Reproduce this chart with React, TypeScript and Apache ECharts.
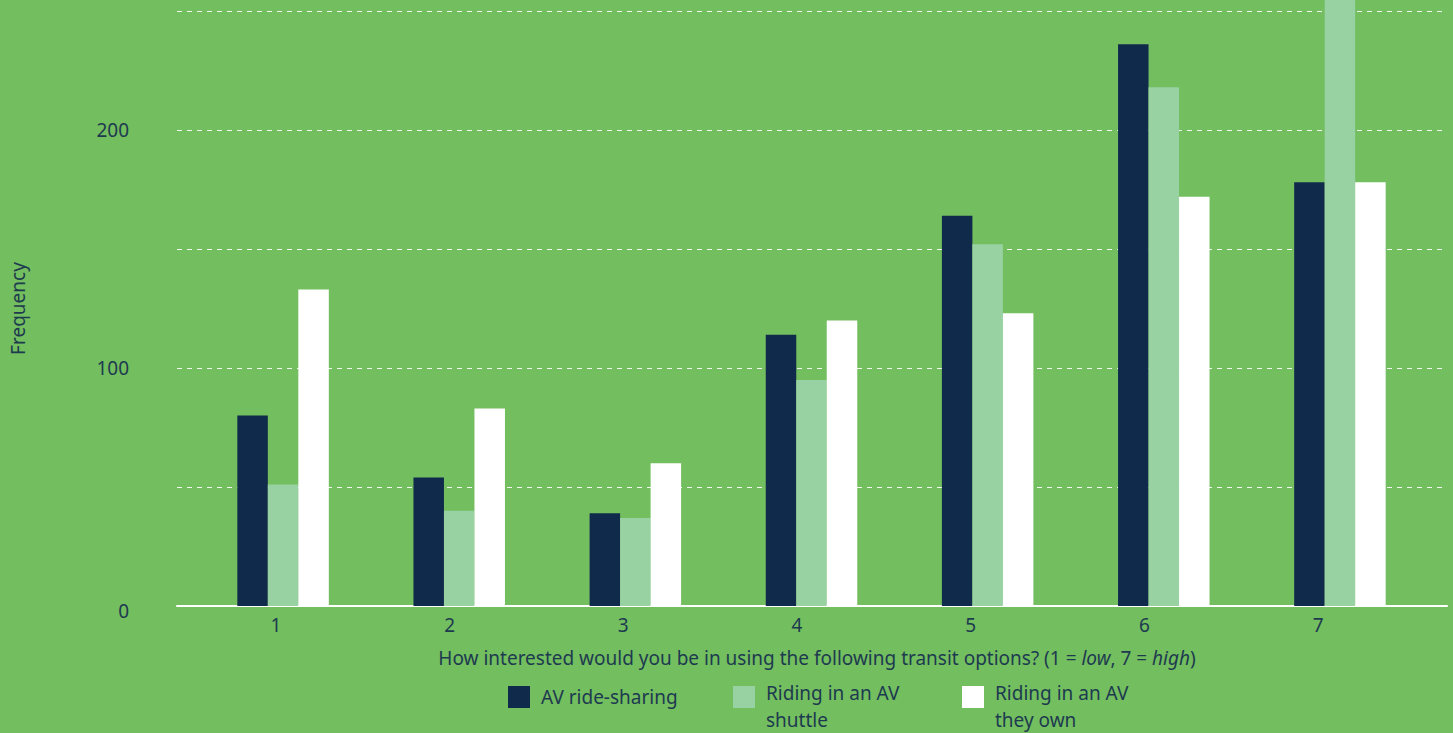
import React, { useEffect, useRef } from "react";
import * as echarts from "echarts";

const categories = ["1", "2", "3", "4", "5", "6", "7"];
const rideSharing = [80, 54, 39, 114, 164, 236, 178];
const shuttle = [51, 40, 37, 95, 152, 218, 265];
const theyOwn = [133, 83, 60, 120, 123, 172, 178];
const seriesNames = ["AV ride-sharing", "Riding in an AV\nshuttle", "Riding in an AV\nthey own"];
const yTicks = [0, 50, 100, 150, 200, 250];

const BG = "#73be5f";
const NAVY = "#102a4b";
const LIGHT = "#98d1a2";
const WHITE = "#ffffff";
const TEXT = "#1d3a4f";
const FONT = "'Noto Sans', sans-serif";
const FS = 19;

export default function App() {
  const ref = useRef<HTMLDivElement>(null);
  useEffect(() => {
    if (!ref.current) return;
    const chart = echarts.init(ref.current, undefined, { renderer: "svg" });
    const px = 595 / 250;
    chart.setOption({
      animation: false,
      backgroundColor: BG,
      textStyle: { fontFamily: FONT, color: TEXT },
      grid: [
        { left: 175, right: 6, top: 11, bottom: 127 },
        { left: 195, right: 25, top: 0, bottom: 127 },
        { left: 189, right: 48, top: 11, bottom: 127 },
      ],
      xAxis: [
        {
          gridIndex: 0,
          type: "category",
          data: categories,
          axisLine: { show: true, lineStyle: { color: WHITE, width: 2 } },
          axisTick: { show: false },
          axisLabel: { show: false },
          name: "How interested would you be in using the following transit options? (1 = {i|low}, 7 = {i|high})",
          nameLocation: "middle",
          nameGap: 42,
          nameTextStyle: {
            fontSize: FS,
            color: TEXT,
            fontFamily: FONT,
            padding: [0, 0, 0, 10],
            rich: { i: { fontStyle: "italic", fontSize: FS, color: TEXT, fontFamily: FONT } },
          },
        },
        {
          gridIndex: 1,
          type: "category",
          data: categories,
          axisLine: { show: false },
          axisTick: { show: false },
          axisLabel: { show: false },
        },
        {
          gridIndex: 2,
          type: "category",
          data: categories,
          axisLine: { show: false },
          axisTick: { show: false },
          axisLabel: { show: true, fontSize: FS, color: TEXT, margin: 9, fontFamily: FONT },
        },
      ],
      yAxis: [
        {
          gridIndex: 0,
          type: "value",
          min: yTicks[0],
          max: yTicks[yTicks.length - 1],
          interval: 50,
          axisLine: { show: false },
          axisTick: { show: false },
          splitLine: { show: true, lineStyle: { color: "rgba(255,255,255,0.9)", type: [5, 5], width: 1 } },
          axisLabel: {
            fontSize: FS,
            color: TEXT,
            margin: 48,
            fontFamily: FONT,
            formatter: (v: number) => (v === 0 ? "{z|0}" : v % 100 === 0 ? String(v) : ""),
            rich: { z: { fontSize: FS, color: TEXT, fontFamily: FONT, padding: [10, 0, 0, 0] } },
          },
          name: "Frequency",
          nameLocation: "middle",
          nameGap: 150,
          nameTextStyle: { fontSize: FS, color: TEXT, fontFamily: FONT },
        },
        {
          gridIndex: 1,
          type: "value",
          min: 0,
          max: 606 / px,
          show: false,
          splitLine: { show: false },
        },
        {
          gridIndex: 2,
          type: "value",
          min: 0,
          max: 250,
          show: false,
          splitLine: { show: false },
        },
      ],
      legend: {
        left: 508,
        top: 661,
        padding: 0,
        orient: "horizontal",
        itemWidth: 22,
        itemHeight: 22,
        itemGap: 0,
        icon: "rect",
        formatter: (name: string) => (name.indexOf("\n") >= 0 ? "{s| }\n" + name : name),
        textStyle: {
          fontSize: FS,
          color: TEXT,
          fontFamily: FONT,
          lineHeight: 27,
          rich: { s: { fontSize: 1, lineHeight: 18 } },
        },
        data: [
          { name: seriesNames[0], textStyle: { width: 192, padding: [0, 0, 0, 6] } },
          { name: seriesNames[1], textStyle: { width: 196, padding: [0, 0, 0, 6] } },
          { name: seriesNames[2], textStyle: { width: 170, padding: [0, 0, 0, 6] } },
        ],
      },
      series: [
        {
          name: seriesNames[0],
          type: "bar",
          xAxisIndex: 1,
          yAxisIndex: 1,
          data: rideSharing,
          barWidth: 30.5,
          barGap: "0%",
          itemStyle: { color: NAVY },
        },
        {
          name: seriesNames[1],
          type: "bar",
          xAxisIndex: 1,
          yAxisIndex: 1,
          data: shuttle,
          barWidth: 30.5,
          barGap: "0%",
          itemStyle: { color: LIGHT },
        },
        {
          name: seriesNames[2],
          type: "bar",
          xAxisIndex: 1,
          yAxisIndex: 1,
          data: theyOwn,
          barWidth: 30.5,
          barGap: "0%",
          itemStyle: { color: WHITE },
        },
      ],
    });
    return () => chart.dispose();
  }, []);
  return (
    <div
      ref={ref}
      style={{ position: "fixed", left: 0, top: 0, width: "1453px", height: "733px" }}
    />
  );
}
